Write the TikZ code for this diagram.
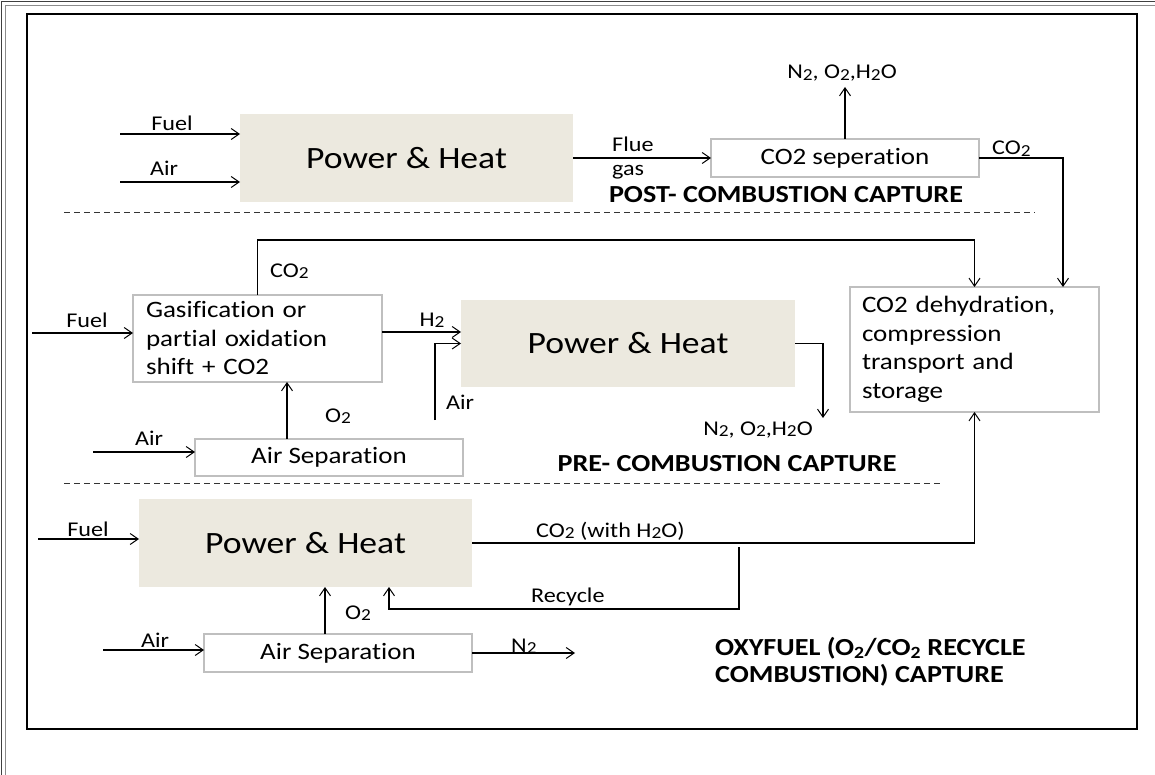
\documentclass[tikz,border=0pt]{standalone}
\usepackage{fontspec}
\usepackage{graphicx}
\setmainfont{Carlito}[FakeStretch=1.15, Ligatures={NoCommon}]
\usetikzlibrary{arrows.meta}

\definecolor{heatfill}{RGB}{236,233,223}
\definecolor{boxline}{RGB}{191,191,191}
\newcommand{\heatfont}{\fontsize{31}{36}\selectfont}
\newcommand{\boxfont}{\fontsize{23.5}{28.5}\selectfont}
\newcommand{\lblfont}{\fontsize{21}{25}\selectfont}
\newcommand{\capfont}{\fontsize{24.5}{28}\selectfont\bfseries}
\newcommand{\chemsub}[1]{\raisebox{-0.12ex}{\scalebox{0.8}{#1}}}

\begin{document}
\begin{tikzpicture}[x=1pt, y=-1pt,
    flow/.style={draw, line width=1.1pt, -{Straight Barb[length=8pt,width=11pt,line width=1pt]}},
    heatbox/.style={fill=heatfill, inner sep=0pt, outer sep=0pt, font=\heatfont},
    unitbox/.style={draw=boxline, line width=1.2pt, fill=white, inner sep=0pt, outer sep=0pt, font=\boxfont},
    lbl/.style={inner sep=0pt, font=\lblfont},
    sect/.style={inner sep=0pt, font=\capfont},
    dashline/.style={line width=0.9pt, black!80, dash pattern=on 6pt off 4pt}]

    \useasboundingbox (0,0) rectangle (1155,775);

    % Page frame
    \draw[line width=1pt, black!75] (1.5,775) -- (1.5,1.5) -- (1155,1.5);
    \draw[line width=1pt, black!45] (5.5,775) -- (5.5,5.5) -- (1155,5.5);
    \draw[line width=2.6pt] (27,14) rectangle (1137,729);

    % --------------------------------------------------
    % POST-COMBUSTION
    % --------------------------------------------------
    \node[heatbox, minimum width=333pt, minimum height=88pt] (heatA) at (406.5,158) {Power \& Heat};
    \node[unitbox, minimum width=268pt, minimum height=38pt] (sepA) at (845,158) {CO2 seperation};
    \coordinate (fuelA) at (120,134);
    \coordinate (airA) at (120,182);
    \coordinate (ventA) at (845,87);
    \draw[flow] (fuelA) -- (fuelA -| heatA.west);
    \draw[flow] (airA) -- (airA -| heatA.west);
    \draw[flow] (heatA.east) -- (sepA.west);
    \draw[flow] (sepA.north) -- (ventA);
    \node[lbl, anchor=base] (fuelAlbl) at (172,131) {Fuel};
    \node[lbl, anchor=base] (airAlbl) at (164,176) {Air};
    \node[lbl, anchor=base west] (flue) at (612,152) {Flue};
    \node[lbl, anchor=base west] (gas) at (612,176) {gas};
    \node[lbl, anchor=base] (ventAlbl) at (842,79) {N\chemsub{2}, O\chemsub{2},H\chemsub{2}O};
    \node[lbl, anchor=base west] (co2A) at (992,155) {CO\chemsub{2}};
    \node[sect, anchor=base] (post) at (786,203) {POST- COMBUSTION CAPTURE};
    \draw[dashline] (64,212) -- (1035,212);

    % --------------------------------------------------
    % PRE-COMBUSTION
    % --------------------------------------------------
    \node[unitbox, minimum width=249pt, minimum height=87pt, text width=223pt, align=left] (gasif) at (257.5,338.5) {Gasification or\\partial oxidation\\shift + CO2};
    \node[heatbox, minimum width=334pt, minimum height=87pt] (heatB) at (628,343.5) {Power \& Heat};
    \node[unitbox, minimum width=249pt, minimum height=125pt, text width=225pt, align=left] (dehyd) at (974.5,349.5) {CO2 dehydration,\\compression\\transport and\\storage};
    \node[unitbox, minimum width=268pt, minimum height=37pt] (sepB) at (329,457.5) {Air Separation};
    \coordinate (fuelB) at (32,333);
    \coordinate (airB) at (93,452);
    \coordinate (airH) at (435,420);
    \coordinate (ventB) at (823,418);
    \draw[flow] (fuelB) -- (fuelB -| gasif.west);
    \draw[flow] ([yshift=6.5pt]gasif.east) -- ([yshift=6.5pt]gasif.east -| heatB.west);
    \draw[flow] (airH) |- (heatB.west);
    \draw[flow] (heatB.east) -| (ventB);
    \draw[flow] (airB) -- (airB -| sepB.west);
    \draw[flow] ([xshift=-42pt]sepB.north) -- ([xshift=-42pt]sepB.north |- gasif.south);
    \draw[flow] (gasif.north) -- ++(0,-55) -| (dehyd.north);
    \draw[flow] (sepA.east) -| ([xshift=88.5pt]dehyd.north);
    \node[lbl, anchor=base west] (co2B) at (270,277) {CO\chemsub{2}};
    \node[lbl, anchor=base] (fuelBlbl) at (87,327) {Fuel};
    \node[lbl, anchor=base] (h2) at (432,326) {H\chemsub{2}};
    \node[lbl, anchor=base west] (airHlbl) at (446,409) {Air};
    \node[lbl, anchor=base west] (o2B) at (325,422) {O\chemsub{2}};
    \node[lbl, anchor=base] (airBlbl) at (149,445) {Air};
    \node[lbl, anchor=base] (ventBlbl) at (758,435) {N\chemsub{2}, O\chemsub{2},H\chemsub{2}O};
    \node[sect, anchor=base] (pre) at (727,471) {PRE- COMBUSTION CAPTURE};
    \draw[dashline] (64,483) -- (943,483);

    % --------------------------------------------------
    % OXYFUEL
    % --------------------------------------------------
    \node[heatbox, minimum width=333pt, minimum height=88pt] (heatC) at (305.5,543) {Power \& Heat};
    \node[unitbox, minimum width=268pt, minimum height=38pt] (sepC) at (338,653) {Air Separation};
    \coordinate (fuelC) at (38,539);
    \coordinate (airC) at (103,650);
    \coordinate (recA) at (739,547);
    \coordinate (recB) at (739,609);
    \coordinate (n2C) at (575,653);
    \draw[flow] (fuelC) -- (fuelC -| heatC.west);
    \draw[flow] (heatC.east) -| (dehyd.south);
    \draw[flow] (recA) -- (recB) -| ([xshift=83.5pt]heatC.south);
    \draw[flow] (airC) -- (airC -| sepC.west);
    \draw[flow] ([xshift=-13pt]sepC.north) -- ([xshift=-13pt]sepC.north |- heatC.south);
    \draw[flow] (sepC.east) -- (n2C);
    \node[lbl, anchor=base] (fuelClbl) at (88,536) {Fuel};
    \node[lbl, anchor=base west] (co2C) at (536,537) {CO\chemsub{2} (with H\chemsub{2}O)};
    \node[lbl, anchor=base west] (recycle) at (531,602) {Recycle};
    \node[lbl, anchor=base west] (o2C) at (345,619) {O\chemsub{2}};
    \node[lbl, anchor=base] (airClbl) at (155,647) {Air};
    \node[lbl, anchor=base west] (n2Clbl) at (511,652) {N\chemsub{2}};
    \node[sect, anchor=base west] (oxyA) at (715,655) {OXYFUEL (O\textsubscript{2}/CO\textsubscript{2} RECYCLE};
    \node[sect, anchor=base west] (oxyB) at (715,682) {COMBUSTION) CAPTURE};

\end{tikzpicture}
\end{document}
